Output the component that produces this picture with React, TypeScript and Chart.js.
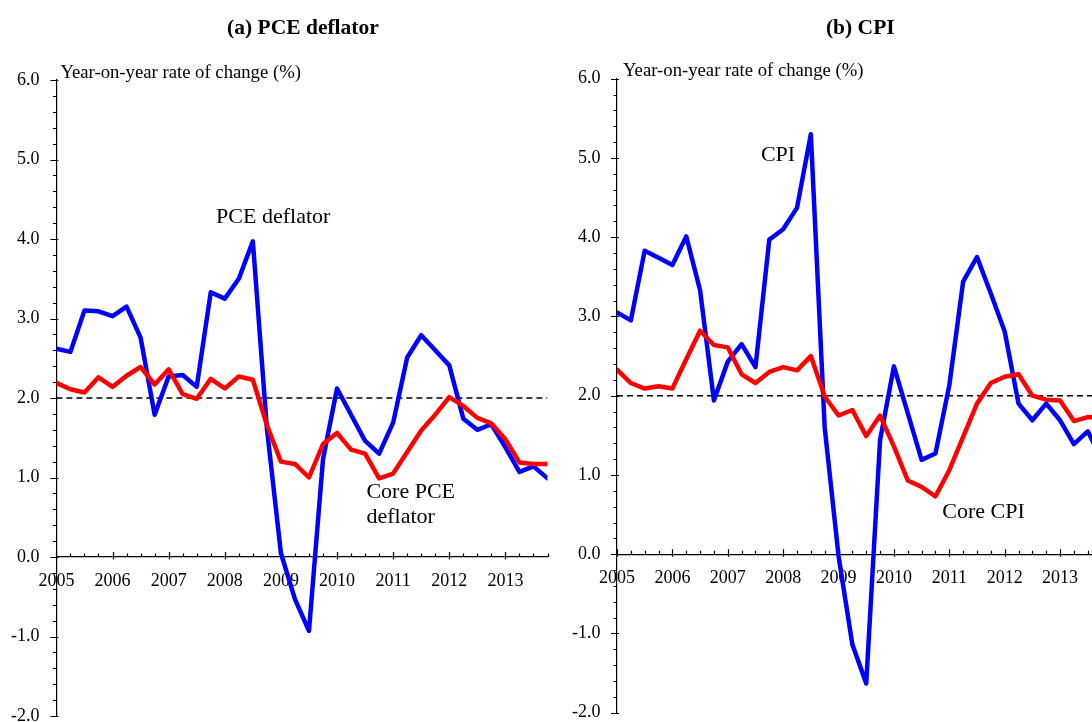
import React, { useEffect, useRef } from "react";
import { Chart, registerables } from "chart.js";

Chart.register(...registerables);

// ---------- data ----------
const periods = [
  "2005Q1", "2005Q2", "2005Q3", "2005Q4",
  "2006Q1", "2006Q2", "2006Q3", "2006Q4",
  "2007Q1", "2007Q2", "2007Q3", "2007Q4",
  "2008Q1", "2008Q2", "2008Q3", "2008Q4",
  "2009Q1", "2009Q2", "2009Q3", "2009Q4",
  "2010Q1", "2010Q2", "2010Q3", "2010Q4",
  "2011Q1", "2011Q2", "2011Q3", "2011Q4",
  "2012Q1", "2012Q2", "2012Q3", "2012Q4",
  "2013Q1", "2013Q2", "2013Q3", "2013Q4",
];

const pceDeflator = [
  2.62, 2.58, 3.10, 3.09,
  3.03, 3.15, 2.76, 1.79,
  2.27, 2.29, 2.14, 3.33,
  3.25, 3.50, 3.97, 1.62,
  0.05, -0.53, -0.93, 1.23,
  2.12, 1.79, 1.46, 1.30,
  1.69, 2.51, 2.79, 2.60,
  2.41, 1.74, 1.60, 1.67,
  1.38, 1.07, 1.14, 0.99,
];

const corePceDeflator = [
  2.19, 2.11, 2.07, 2.26,
  2.14, 2.28, 2.39, 2.17,
  2.36, 2.05, 1.99, 2.24,
  2.12, 2.27, 2.23, 1.66,
  1.20, 1.17, 1.00, 1.42,
  1.56, 1.35, 1.30, 0.99,
  1.05, 1.32, 1.59, 1.79,
  2.01, 1.90, 1.75, 1.68,
  1.48, 1.19, 1.17, 1.17,
];

const cpi = [
  3.05, 2.95, 3.83, 3.74,
  3.65, 4.01, 3.33, 1.94,
  2.43, 2.65, 2.36, 3.97,
  4.10, 4.37, 5.30, 1.60,
  -0.02, -1.14, -1.63, 1.44,
  2.37, 1.78, 1.19, 1.27,
  2.13, 3.44, 3.75, 3.29,
  2.81, 1.90, 1.69, 1.90,
  1.69, 1.39, 1.55, 1.20,
];

const coreCpi = [
  2.33, 2.16, 2.09, 2.12,
  2.09, 2.46, 2.82, 2.64,
  2.61, 2.27, 2.16, 2.30,
  2.36, 2.32, 2.50, 1.99,
  1.75, 1.82, 1.49, 1.75,
  1.36, 0.93, 0.85, 0.73,
  1.06, 1.48, 1.90, 2.16,
  2.24, 2.27, 2.00, 1.95,
  1.94, 1.68, 1.73, 1.72,
];

const yearTicks = [2005, 2006, 2007, 2008, 2009, 2010, 2011, 2012, 2013];
const yMin = -2;
const yMax = 6;
const targetRate = 2.0;
const unitCaption = "Year-on-year rate of change (%)";

// ---------- helpers ----------
const FONT = '"Liberation Serif", "Times New Roman", Times, serif';

const periodToX = (p: string) => {
  const year = parseInt(p.slice(0, 4), 10);
  const q = parseInt(p.slice(5), 10);
  return year + (q - 1) / 4;
};
const xStart = periodToX(periods[0]);
const xEnd = periodToX(periods[periods.length - 1]);

const series = (vals: number[]) => vals.map((v, i) => ({ x: periodToX(periods[i]), y: v }));

type Note = { lines: string[]; x: number; y: number };

type PanelCfg = {
  title: string;
  headlineLabel: string;
  coreLabel: string;
  headline: number[];
  core: number[];
  notes: Note[];
  area: { left: number; top: number; right: number; bottom: number };
  canvasLeft: number;
  canvasWidth: number;
  yLabelPad: number;
  captionDx: number;
};

function makeDecoPlugin(cfg: PanelCfg) {
  return {
    id: "panelDeco",
    beforeDatasetsDraw(chart: any) {
      const { ctx, chartArea, scales } = chart;
      const xs = scales.x;
      const ys = scales.y;
      const ax = chartArea.left;
      const y0 = ys.getPixelForValue(0);
      ctx.save();
      ctx.strokeStyle = "#000";
      ctx.lineWidth = 1.2;
      ctx.beginPath();
      for (let k = yMin * 5; k <= yMax * 5; k++) {
        const py = Math.round(ys.getPixelForValue(k / 5)) + 0.5;
        const major = k % 5 === 0;
        ctx.moveTo(ax - (major ? 6 : 3.5), py);
        ctx.lineTo(ax + (major ? 2 : 0), py);
      }
      const nq = Math.round((xEnd - xStart) * 4);
      for (let q = 0; q <= nq; q++) {
        const px = Math.round(xs.getPixelForValue(xStart + q / 4)) + 0.5;
        const major = q % 4 === 0;
        ctx.moveTo(px, y0 - (major ? 5 : 3.5));
        ctx.lineTo(px, y0 + (major ? 2.5 : 0));
      }
      ctx.stroke();
      ctx.restore();
    },
    afterDraw(chart: any) {
      const { ctx, chartArea, scales } = chart;
      const xs = scales.x;
      const ys = scales.y;
      ctx.save();
      ctx.fillStyle = "#000";
      ctx.textBaseline = "alphabetic";
      // title
      ctx.font = `bold 21.5px ${FONT}`;
      ctx.textAlign = "center";
      ctx.fillText(cfg.title, (chartArea.left + chartArea.right) / 2 + 1, 34);
      // caption
      ctx.font = `18.7px ${FONT}`;
      ctx.textAlign = "left";
      ctx.fillText(unitCaption, chartArea.left + cfg.captionDx, chartArea.top - 2.5);
      // notes
      ctx.font = `22px ${FONT}`;
      cfg.notes.forEach((n) => {
        const px = xs.getPixelForValue(n.x);
        const py = ys.getPixelForValue(n.y);
        n.lines.forEach((t, i) => ctx.fillText(t, px, py + i * 24.6));
      });
      ctx.restore();
    },
  };
}

function Panel({ cfg }: { cfg: PanelCfg }) {
  const ref = useRef<HTMLCanvasElement | null>(null);
  useEffect(() => {
    if (!ref.current) return;
    const H = 722;
    const lineStyle = {
      borderWidth: 4.5,
      pointRadius: 0,
      tension: 0,
      borderJoinStyle: "round" as const,
      borderCapStyle: "round" as const,
    };
    const chart = new Chart(ref.current, {
      type: "line",
      data: {
        datasets: [
          {
            label: cfg.coreLabel,
            data: series(cfg.core),
            borderColor: "#ff0000",
            backgroundColor: "#ff0000",
            ...lineStyle,
          },
          {
            label: cfg.headlineLabel,
            data: series(cfg.headline),
            borderColor: "#0000ff",
            backgroundColor: "#0000ff",
            ...lineStyle,
          },
          {
            label: "2% line",
            data: [
              { x: xStart, y: targetRate },
              { x: xEnd, y: targetRate },
            ],
            borderColor: "#000",
            borderWidth: 1.5,
            borderDash: [6, 4],
            pointRadius: 0,
          },
        ],
      },
      options: {
        animation: false,
        responsive: false,
        events: [],
        layout: {
          padding: {
            left: 0,
            top: cfg.area.top,
            right: cfg.canvasWidth - cfg.area.right,
            bottom: H - cfg.area.bottom,
          },
        },
        plugins: {
          legend: { display: false },
          title: { display: false },
          tooltip: { enabled: false },
        },
        scales: {
          x: {
            type: "linear",
            position: { y: 0 } as any,
            min: xStart,
            max: xEnd,
            grid: { display: false, drawTicks: false },
            border: { display: true, color: "#000", width: 1.2 },
            afterBuildTicks: (s: any) => {
              s.ticks = yearTicks.map((v) => ({ value: v }));
            },
            afterFit: (s: any) => {
              s.paddingLeft = 0;
              s.paddingRight = 0;
            },
            ticks: {
              autoSkip: false,
              maxRotation: 0,
              minRotation: 0,
              padding: 13,
              color: "#000",
              font: { family: FONT, size: 18 },
              callback: (v: any) => String(v),
            },
          },
          y: {
            type: "linear",
            position: "left",
            min: yMin,
            max: yMax,
            grid: { display: false, drawTicks: false },
            border: { display: true, color: "#000", width: 1.2 },
            afterFit: (s: any) => {
              s.width = cfg.area.left;
              s.paddingTop = 0;
              s.paddingBottom = 0;
            },
            ticks: {
              stepSize: 1,
              padding: cfg.yLabelPad,
              color: "#000",
              font: { family: FONT, size: 18 },
              callback: (v: any) => Number(v).toFixed(1),
            },
          },
        },
      },
      plugins: [makeDecoPlugin(cfg) as any],
    });
    return () => chart.destroy();
  }, [cfg]);
  return (
    <canvas
      ref={ref}
      width={cfg.canvasWidth}
      height={722}
      style={{ position: "absolute", left: cfg.canvasLeft, top: 0, width: cfg.canvasWidth, height: 722 }}
    />
  );
}

const leftCfg: PanelCfg = {
  title: "(a) PCE deflator",
  headlineLabel: "PCE deflator",
  coreLabel: "Core PCE deflator",
  headline: pceDeflator,
  core: corePceDeflator,
  notes: [
    { lines: ["PCE deflator"], x: 2007.845, y: 4.2 },
    { lines: ["Core PCE", "deflator"], x: 2010.524, y: 0.742 },
  ],
  area: { left: 56.4, top: 80, right: 547.5, bottom: 716 },
  canvasLeft: 0,
  canvasWidth: 560,
  yLabelPad: 17,
  captionDx: 4,
};

const rightCfg: PanelCfg = {
  title: "(b) CPI",
  headlineLabel: "CPI",
  coreLabel: "Core CPI",
  headline: cpi,
  core: coreCpi,
  notes: [
    { lines: ["CPI"], x: 2007.598, y: 4.963 },
    { lines: ["Core CPI"], x: 2010.874, y: 0.462 },
  ],
  area: { left: 57, top: 78.7, right: 541.6, bottom: 712.7 },
  canvasLeft: 560,
  canvasWidth: 580,
  yLabelPad: 16.5,
  captionDx: 6,
};

export default function App() {
  return (
    <div
      style={{
        position: "fixed",
        left: 0,
        top: 0,
        width: 1092,
        height: 722,
        overflow: "hidden",
        background: "#fff",
      }}
    >
      <Panel cfg={leftCfg} />
      <Panel cfg={rightCfg} />
    </div>
  );
}
